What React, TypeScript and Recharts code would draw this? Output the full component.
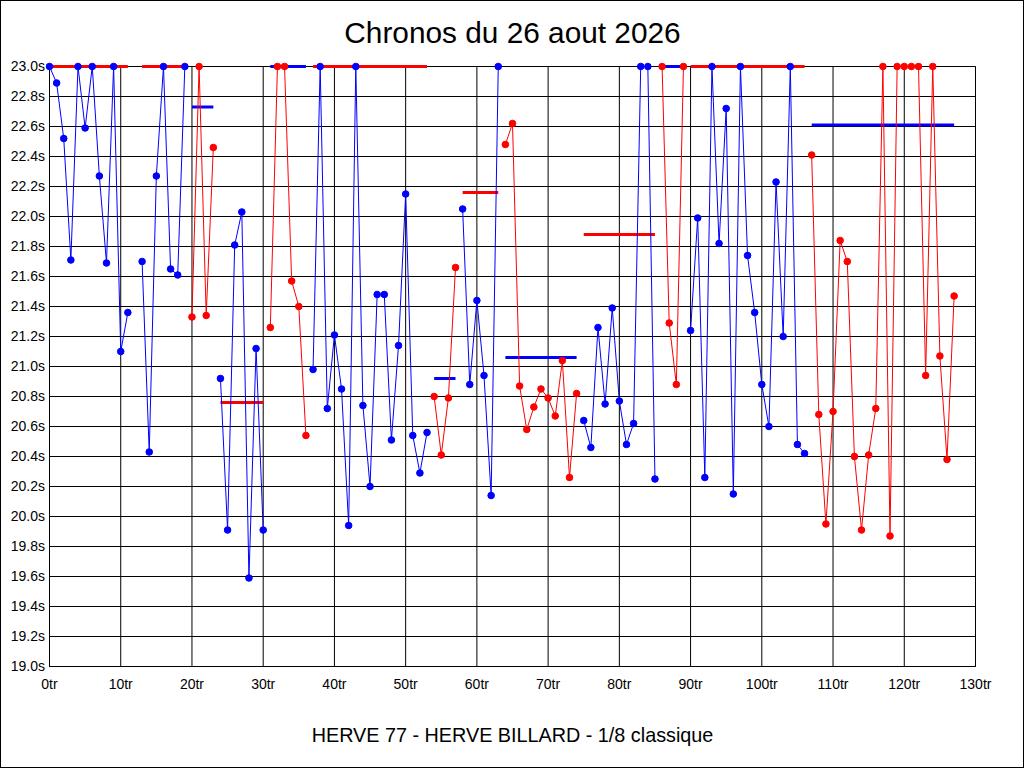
import React from 'react';
import { ComposedChart, Line, XAxis, YAxis, CartesianGrid } from 'recharts';

// ---- data ----
const xTicks = [0, 10, 20, 30, 40, 50, 60, 70, 80, 90, 100, 110, 120, 130];
const yTicks = [19.0, 19.2, 19.4, 19.6, 19.8, 20.0, 20.2, 20.4, 20.6, 20.8, 21.0, 21.2, 21.4, 21.6, 21.8, 22.0, 22.2, 22.4, 22.6, 22.8, 23.0];
const lapCount = 128;

// first lap of each series (run)
const segStarts = [0, 13, 20, 24, 31, 37, 54, 58, 64, 75, 86, 90, 107];

// lap times (s) of each series
const seg0 = [23.0, 22.89, 22.52, 21.71, 23.0, 22.59, 23.0, 22.27, 21.69, 23.0, 21.10, 21.36];
const seg1 = [21.70, 20.43, 22.27, 23.0, 21.65, 21.61, 23.0];
const seg2 = [21.33, 23.0, 21.34, 22.46];
const seg3 = [20.92, 19.91, 21.81, 22.03, 19.59, 21.12, 19.91];
const seg4 = [21.26, 23.0, 23.0, 21.57, 21.40, 20.54];
const seg5 = [20.98, 23.0, 20.72, 21.21, 20.85, 19.94, 23.0, 20.74, 20.20, 21.48, 21.48, 20.51, 21.14, 22.15, 20.54, 20.29, 20.56];
const seg6 = [20.80, 20.41, 20.79, 21.66];
const seg7 = [22.05, 20.88, 21.44, 20.94, 20.14, 23.0];
const seg8 = [22.48, 22.62, 20.87, 20.58, 20.73, 20.85, 20.79, 20.67, 21.04, 20.26, 20.82];
const seg9 = [20.64, 20.46, 21.26, 20.75, 21.39, 20.77, 20.48, 20.62, 23.0, 23.0, 20.25];
const seg10 = [23.0, 21.29, 20.88, 23.0];
const seg11 = [21.24, 21.99, 20.26, 23.0, 21.82, 22.72, 20.15, 23.0, 21.74, 21.36, 20.88, 20.60, 22.23, 21.20, 23.0, 20.48, 20.42];
const seg12 = [22.41, 20.68, 19.95, 20.70, 21.84, 21.70, 20.40, 19.91, 20.41, 20.72, 23.0, 19.87, 23.0, 23.0, 23.0, 23.0, 20.94, 23.0, 21.07, 20.38, 21.47];

const segValues = [seg0, seg1, seg2, seg3, seg4, seg5, seg6, seg7, seg8, seg9, seg10, seg11, seg12];

// average of each series (horizontal bar)
const segAverages = [23.0, 23.0, 22.73, 20.76, 23.0, 23.0, 20.92, 22.16, 21.06, 21.88, 23.0, 23.0, 22.61];

const title = 'Chronos du 26 aout 2026';
const subtitle = 'HERVE 77 - HERVE BILLARD - 1/8 classique';

// ---- styles ----
const BLUE = '#0000ff';
const RED = '#ff0000';
const segIsBlue = [true, true, false, true, false, true, false, true, false, true, false, true, false];
const FONT = '"Liberation Sans", Arial, Helvetica, sans-serif';

// ---- table built from the arrays ----
const rows: Record<string, number>[] = [];
for (let i = 0; i < lapCount; i++) rows.push({ lap: i });
segValues.forEach((vals, k) => {
  const start = segStarts[k];
  vals.forEach((v, j) => {
    rows[start + j][`s${k}`] = v;
  });
  const end = start + vals.length - 1;
  rows[start][`a${k}`] = segAverages[k];
  rows[end][`a${k}`] = segAverages[k];
});

const fmtY = (v: number) => `${v.toFixed(1)}s`;
const fmtX = (v: number) => `${v}tr`;

export default function App() {
  const tick = { fill: '#000', fontSize: 14, fontFamily: FONT };
  return (
    <div style={{ position: 'absolute', left: 0, top: 0, width: 1024, height: 768, background: '#fff', fontFamily: FONT }}>
      <ComposedChart
        width={1024}
        height={768}
        data={rows}
        margin={{ top: 66.5, right: 0, bottom: 71.5, left: 0.5 }}
      >
        <CartesianGrid yAxisId="left" stroke="#000" strokeWidth={1} strokeOpacity={1} />
        <XAxis
          dataKey="lap"
          type="number"
          domain={[0, 130]}
          ticks={xTicks}
          interval={0}
          tickFormatter={fmtX}
          tick={tick}
          tickLine={false}
          tickSize={0}
          tickMargin={13}
          axisLine={{ stroke: '#000' }}
          height={30}
          allowDecimals={false}
        />
        <YAxis
          yAxisId="left"
          orientation="left"
          type="number"
          domain={[19, 23]}
          ticks={yTicks}
          interval={0}
          tickFormatter={fmtY}
          tick={tick}
          tickLine={false}
          tickSize={0}
          tickMargin={4.5}
          axisLine={{ stroke: '#000' }}
          width={49}
        />
        <YAxis
          yAxisId="right"
          orientation="right"
          type="number"
          domain={[19, 23]}
          ticks={yTicks}
          interval={0}
          tickFormatter={fmtY}
          tick={{ ...tick, textAnchor: 'start' }}
          tickLine={false}
          tickSize={0}
          tickMargin={4}
          axisLine={{ stroke: '#000' }}
          width={48.5}
        />
        {segAverages.map((_, k) => (
          <Line
            key={`a${k}`}
            yAxisId="left"
            dataKey={`a${k}`}
            stroke={segIsBlue[k] ? RED : BLUE}
            strokeWidth={3}
            dot={false}
            activeDot={false}
            connectNulls
            isAnimationActive={false}
            type="linear"
          />
        ))}
        {segValues.map((_, k) => {
          const c = segIsBlue[k] ? BLUE : RED;
          return (
            <Line
              key={`s${k}`}
              yAxisId="left"
              dataKey={`s${k}`}
              stroke={c}
              strokeWidth={1}
              dot={{ r: 3.3, fill: c, stroke: c, strokeWidth: 1 }}
              activeDot={false}
              connectNulls={false}
              isAnimationActive={false}
              type="linear"
            />
          );
        })}
      </ComposedChart>
      <svg
        width={1024}
        height={768}
        style={{ position: 'absolute', left: 0, top: 0, pointerEvents: 'none' }}
      >
        <rect x={0.5} y={0.5} width={1023} height={767} fill="none" stroke="#000" strokeWidth={1} />
        <text x={512.5} y={43.3} textAnchor="middle" fontSize={29.8} fontFamily={FONT} fill="#000">
          {title}
        </text>
        <text x={512.5} y={742} textAnchor="middle" fontSize={19.8} fontFamily={FONT} fill="#000">
          {subtitle}
        </text>
      </svg>
    </div>
  );
}
